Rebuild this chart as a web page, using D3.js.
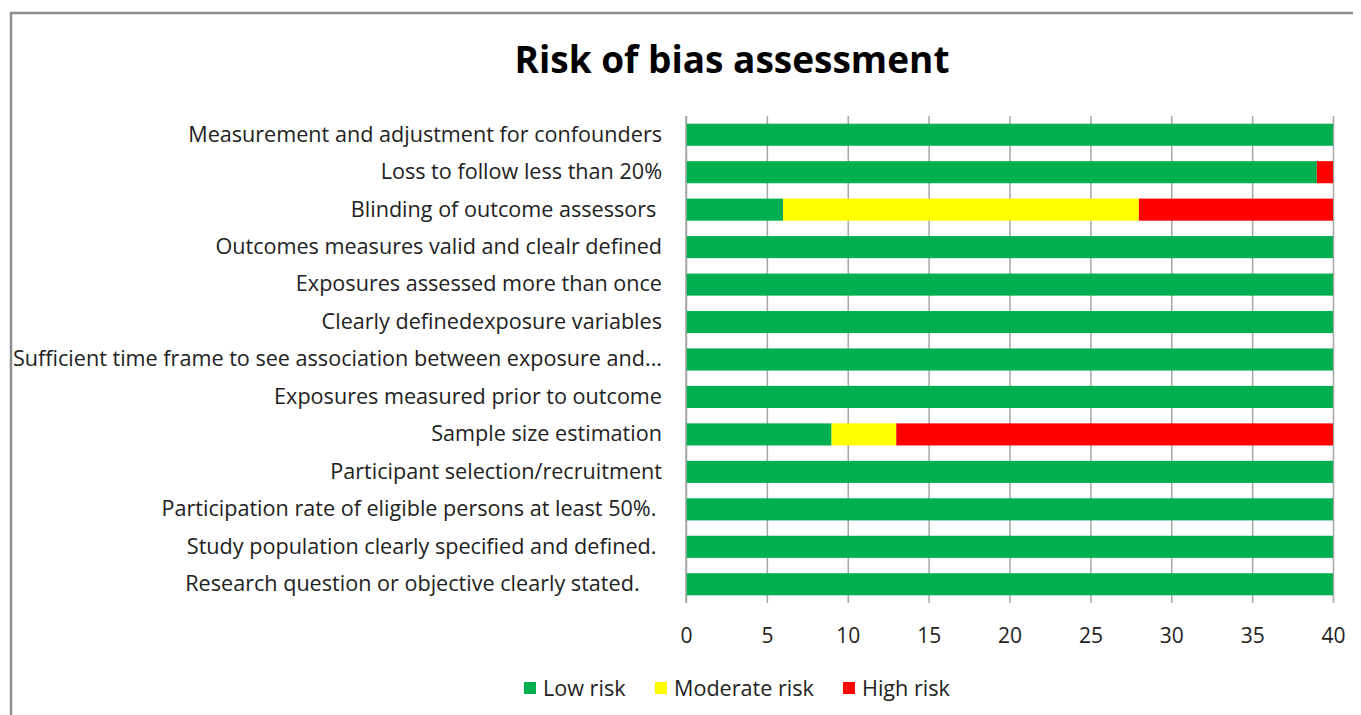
<!DOCTYPE html>
<html>
<head>
<meta charset="utf-8">
<script src="https://cdn.jsdelivr.net/npm/d3@7"></script>
<style>
  body { margin: 0; background: #fff; }
  text { font-family: 'Open Sans', sans-serif; fill: #222; white-space: pre; }
</style>
</head>
<body>
<svg width="1361" height="715"></svg>
<script>
// data, top to bottom as in the chart
const categories = [
  'Measurement and adjustment for confounders',
  'Loss to follow less than 20%',
  'Blinding of outcome assessors ',
  'Outcomes measures valid and clealr defined',
  'Exposures assessed more than once',
  'Clearly definedexposure variables',
  'Sufficient time frame to see association between exposure and...',
  'Exposures measured prior to outcome',
  'Sample size estimation',
  'Participant selection/recruitment',
  'Participation rate of eligible persons at least 50%. ',
  'Study population clearly specified and defined. ',
  'Research question or objective clearly stated.    '
];
const lowRisk      = [40, 39, 6, 40, 40, 40, 40, 40, 9, 40, 40, 40, 40];
const moderateRisk = [0, 0, 22, 0, 0, 0, 0, 0, 4, 0, 0, 0, 0];
const highRisk     = [0, 1, 12, 0, 0, 0, 0, 0, 27, 0, 0, 0, 0];
const seriesNames = ['Low risk', 'Moderate risk', 'High risk'];
const seriesColors = ['#00B050', '#FFFF00', '#FF0000'];
const xTicks = [0, 5, 10, 15, 20, 25, 30, 35, 40];

const svg = d3.select('svg');
const svgWidth = +svg.attr('width');
const margins = { top: 116, right: 28, bottom: 112, left: 686 };
const chartAreaWidth = svgWidth - (margins.left + margins.right);
const chartAreaHeight = +svg.attr('height') - (margins.top + margins.bottom);

// outer frame (only top and left visible in the original)
svg.append('path')
  .attr('d', `M11,715 L11,13 L1353,13`)
  .attr('fill', 'none')
  .attr('stroke', '#8c8c8c')
  .attr('stroke-width', 2.5);

svg.append('text')
  .attr('x', 732)
  .attr('y', 73)
  .attr('text-anchor', 'middle')
  .style('font-size', '37px')
  .style('font-weight', 'bold')
  .style('fill', '#000')
  .text('Risk of bias assessment');

const chartArea = svg.append('g')
  .attr('transform', `translate(${margins.left}, ${margins.top})`);

const xScale = d3.scaleLinear()
  .domain([0, 40])
  .range([0, chartAreaWidth]);

const yScale = d3.scaleBand()
  .domain(categories)
  .range([0, chartAreaHeight])
  .paddingInner(0.41)
  .paddingOuter(0.205);

// vertical gridlines + tick labels
const xAxisGroup = chartArea.append('g')
  .attr('transform', `translate(0, ${chartAreaHeight})`)
  .call(d3.axisBottom(xScale).tickValues(xTicks).tickSize(-chartAreaHeight).tickPadding(25));
xAxisGroup.select('path.domain').remove();
xAxisGroup.selectAll('line').attr('stroke', '#a6a6a6').attr('stroke-width', 1.5);
xAxisGroup.selectAll('text')
  .style('font-size', '21px')
  .style('font-family', "'Open Sans', sans-serif")
  .attr('fill', '#222');

// category labels
const yAxisGroup = chartArea.append('g')
  .call(d3.axisLeft(yScale).tickSize(0).tickPadding(24));
yAxisGroup.select('path.domain').remove();
yAxisGroup.selectAll('text')
  .style('font-size', '21.6px')
  .style('font-family', "'Open Sans', sans-serif")
  .attr('fill', '#222');

// stacked bars
const rows = categories.map((c, i) => ({
  category: c, 'Low risk': lowRisk[i], 'Moderate risk': moderateRisk[i], 'High risk': highRisk[i]
}));
const stacked = d3.stack().keys(seriesNames)(rows);
chartArea.selectAll('g.series')
  .data(stacked)
  .enter()
  .append('g')
    .attr('class', 'series')
    .attr('fill', (d, i) => seriesColors[i])
  .selectAll('rect')
  .data(d => d)
  .enter()
  .append('rect')
    .attr('x', d => xScale(d[0]))
    .attr('y', d => yScale(d.data.category))
    .attr('width', d => xScale(d[1]) - xScale(d[0]))
    .attr('height', yScale.bandwidth());

// left axis line
chartArea.append('line')
  .attr('x1', 0).attr('x2', 0)
  .attr('y1', 0).attr('y2', chartAreaHeight)
  .attr('stroke', '#a6a6a6')
  .attr('stroke-width', 1.5);

// legend
const legendX = [524, 655, 843];
const legend = svg.append('g').attr('class', 'legend');
seriesNames.forEach((name, i) => {
  legend.append('rect')
    .attr('x', legendX[i]).attr('y', 682)
    .attr('width', 12).attr('height', 12)
    .attr('fill', seriesColors[i]);
  legend.append('text')
    .attr('x', legendX[i] + 19).attr('y', 696)
    .style('font-size', '21.6px')
    .text(name);
});
</script>
</body>
</html>
